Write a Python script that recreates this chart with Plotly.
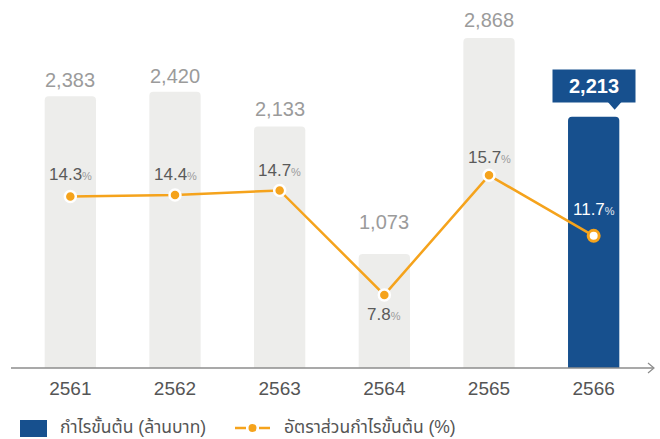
import plotly.graph_objects as go

years = ["2561", "2562", "2563", "2564", "2565", "2566"]
gross_profit = [2383, 2420, 2133, 1073, 2868, 2213]
gross_margin = [14.3, 14.4, 14.7, 7.8, 15.7, 11.7]
legend_labels = ["กำไรขั้นต้น (ล้านบาท)", "อัตราส่วนกำไรขั้นต้น (%)"]

GREY_BAR = "#EDEDEB"
BLUE = "#17508E"
ORANGE = "#F5A31C"
FONT = "Arial, 'Liberation Sans', 'Noto Sans Thai', 'Noto Sans', 'DejaVu Sans', sans-serif"

n = len(years)
xs = list(range(n))
bar_colors = [GREY_BAR] * (n - 1) + [BLUE]

fig = go.Figure()
fig.add_trace(go.Bar(
    x=xs, y=gross_profit, marker=dict(color=bar_colors, line=dict(width=0)),
    width=0.49, hoverinfo="skip", showlegend=False, yaxis="y"))
fig.add_trace(go.Scatter(
    x=xs, y=gross_margin, mode="lines+markers", yaxis="y2",
    line=dict(color=ORANGE, width=2.5),
    marker=dict(size=11,
                color=[ORANGE] * (n - 1) + ["white"],
                line=dict(color=["white"] * (n - 1) + [ORANGE], width=[2.5] * (n - 1) + [3])),
    hoverinfo="skip", showlegend=False))

annotations = []
# bar value labels (grey), highlighted callout for the last one
bar_label_shift = [16, 16, 17, 32, 18]
for i in range(n - 1):
    annotations.append(dict(
        x=xs[i], y=gross_profit[i], xref="x", yref="y", text=f"{gross_profit[i]:,}",
        showarrow=False, yanchor="middle", yshift=bar_label_shift[i],
        font=dict(family=FONT, size=20, color="#9B9B9B")))
annotations.append(dict(
    x=xs[-1], y=gross_profit[-1], xref="x", yref="y", text=f"<b>{gross_profit[-1]:,}</b>",
    showarrow=False, yanchor="bottom", yshift=14, width=78, height=28, borderpad=2,
    bgcolor=BLUE, font=dict(family=FONT, size=20, color="white")))

# percentage labels
pct_shift = [22, 20, 20, -20, 18, 26]
for i in range(n):
    last = i == n - 1
    num_col = "white" if last else "#5A5A5A"
    pc_col = "#E0E6EE" if last else "#9B9B9B"
    annotations.append(dict(
        x=xs[i], y=gross_margin[i], xref="x", yref="y2",
        text=f"<span style='color:{num_col}'>{gross_margin[i]:.1f}</span>"
             f"<span style='font-size:11px;color:{pc_col}'>%</span>",
        showarrow=False, yanchor="middle", yshift=pct_shift[i],
        font=dict(family=FONT, size=17, color=num_col)))

# legend texts
annotations.append(dict(x=58, y=427, xref="paper", yref="paper", text=legend_labels[0],
                        showarrow=False, xanchor="left", yanchor="middle",
                        font=dict(family=FONT, size=17.5, color="#555555")))
annotations.append(dict(x=282, y=427, xref="paper", yref="paper", text=legend_labels[1],
                        showarrow=False, xanchor="left", yanchor="middle",
                        font=dict(family=FONT, size=17.5, color="#555555")))

W, H = 660, 439
L, R, T, B = 18, 14, 30, 71
pw, ph = W - L - R, H - T - B


def px_x(p):
    return (p - L) / pw


def px_y(p):
    return (H - B - p) / ph


# convert legend annotation coordinates from pixels to paper
for a in annotations[-2:]:
    a["x"] = px_x(a["x"])
    a["y"] = px_y(a["y"])

shapes = [
    # x axis line
    dict(type="line", xref="paper", yref="paper", x0=px_x(11), x1=px_x(653), y0=0, y1=0,
         line=dict(color="#8C8C8C", width=1.5)),
    # arrow chevron
    dict(type="path", xref="paper", yref="paper", xsizemode="pixel", ysizemode="pixel",
         xanchor=px_x(646), yanchor=0, path="M 2,5 L 8,0 L 2,-5",
         line=dict(color="#8C8C8C", width=1.2)),
    # callout pointer
    dict(type="path", xref="x", yref="y", xsizemode="pixel", ysizemode="pixel",
         xanchor=xs[-1], yanchor=gross_profit[-1], path="M 14,15 L 28,15 L 21,7 Z",
         fillcolor=BLUE, line=dict(width=0)),
    # legend: blue swatch
    dict(type="rect", xref="paper", yref="paper", x0=px_x(20), x1=px_x(47),
         y0=px_y(437), y1=px_y(420), fillcolor=BLUE, line=dict(width=0)),
    # legend: orange line icon
    dict(type="line", xref="paper", yref="paper", x0=px_x(235), x1=px_x(246),
         y0=px_y(428), y1=px_y(428), line=dict(color=ORANGE, width=2.5)),
    dict(type="line", xref="paper", yref="paper", x0=px_x(259), x1=px_x(270),
         y0=px_y(428), y1=px_y(428), line=dict(color=ORANGE, width=2.5)),
    dict(type="circle", xref="paper", yref="paper", x0=px_x(248.5), x1=px_x(256.5),
         y0=px_y(432), y1=px_y(424), fillcolor=ORANGE, line=dict(width=0)),
]

fig.update_layout(
    width=W, height=H, margin=dict(l=L, r=R, t=T, b=B, autoexpand=False),
    paper_bgcolor="white", plot_bgcolor="white", barcornerradius=4,
    font=dict(family=FONT),
    xaxis=dict(range=[-0.5, n - 0.5], tickvals=xs, ticktext=years, showgrid=False,
               zeroline=False, showline=False, ticks="", automargin=False,
               ticklabelstandoff=7,
               tickfont=dict(family=FONT, size=19, color="#555555"), fixedrange=True),
    yaxis=dict(range=[125, 2934], visible=False, fixedrange=True),
    yaxis2=dict(range=[2.97, 25.3], overlaying="y", visible=False, fixedrange=True),
    annotations=annotations, shapes=shapes, showlegend=False,
)

fig.write_html("out.html")
